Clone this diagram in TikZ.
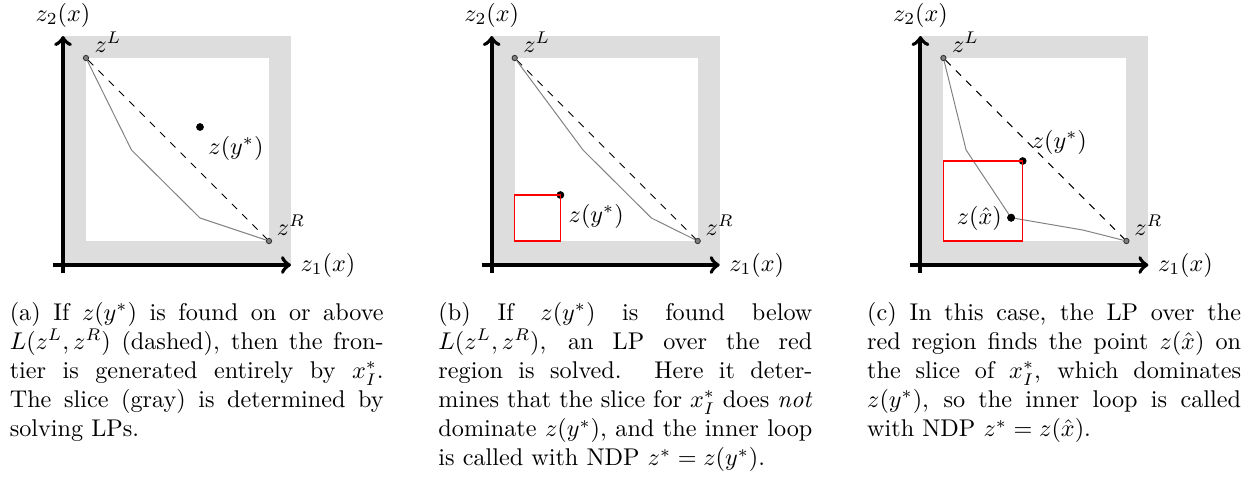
\documentclass[tikz,border=0pt]{standalone}
\begin{document}
\begin{tikzpicture}[x=0.4132pt, y=-0.4132pt,
  axis/.style={line width=1.6pt,->},
  band/.style={fill={rgb,255:red,221;green,221;blue,221}},
  slice/.style={draw=gray, line width=0.4pt},
  dline/.style={dashed, line width=0.4pt},
  endpt/.style={circle, draw=black!80, fill=gray, inner sep=0pt, minimum size=2.2pt, line width=0.35pt},
  dot/.style={circle, fill=black, inner sep=0pt, minimum size=3.2pt},
  redbox/.style={draw=red, line width=0.45pt},
  lbl/.style={inner sep=0pt},
  captext/.style={text width=154.5pt, align=justify, inner sep=0pt, anchor=north west}]
\useasboundingbox (0,0) rectangle (1259,478);
\foreach \p/\s in {a/0,b/428.7,c/857.4}{
 \begin{scope}[shift={(\s,0)}]
  \fill[band] (63,36) rectangle (291,265);
  \fill[white] (86,58) rectangle (269,241);
  \coordinate (\p-ybot) at (63,273);
  \coordinate (\p-ytop) at (63,36);
  \coordinate (\p-xlft) at (53,265);
  \coordinate (\p-xrgt) at (291,265);
  \draw[axis] (\p-ybot) -- (\p-ytop);
  \draw[axis] (\p-xlft) -- (\p-xrgt);
  \node[lbl] (\p-y2) at (63,15) {$z_2(x)$};
  \node[lbl] (\p-x1) at (328,265) {$z_1(x)$};
  \node[lbl] (\p-Ll) at (108,42) {$z^L$};
  \node[lbl] (\p-Rl) at (291,225) {$z^R$};
  \node[endpt] (\p-L) at (86,58) {};
  \node[endpt] (\p-R) at (269,241) {};
  \draw[dline] (\p-L) -- (\p-R);
 \end{scope}
}
% panel (a)
\begin{scope}
  \coordinate (a-s1) at (131.5,150);
  \coordinate (a-s2) at (200,218);
  \draw[slice] (a-L) -- (a-s1) -- (a-s2) -- (a-R);
  \node[dot] (a-y) at (200,127) {};
  \node[lbl] (a-yl) at (236,148) {$z(y^*)$};
  \node[captext] (a-cap) at (9.3,302) {(a) If $z(y^*)$ is found on or above\linebreak $L(z^L,z^R)$ (dashed), then the fron-\linebreak tier is generated entirely by $x_I^*$.\linebreak The slice (gray) is determined by\linebreak solving LPs.};
\end{scope}
% panel (b)
\begin{scope}[shift={(428.7,0)}]
  \coordinate (b-s1) at (154.3,150);
  \coordinate (b-s2) at (222.7,218);
  \draw[slice] (b-L) -- (b-s1) -- (b-s2) -- (b-R);
  \coordinate (b-r0) at (86,241);
  \node[dot] (b-y) at (131.7,195) {};
  \draw[redbox] (b-r0) rectangle (b-y.center);
  \node[lbl] (b-yl) at (167.5,216) {$z(y^*)$};
  \node[captext] (b-cap) at (9.3,302) {(b) If $z(y^*)$ is found below\linebreak $L(z^L,z^R)$, an LP over the red\linebreak region is solved. Here it deter-\linebreak mines that the slice for $x_I^*$ does \emph{not}\linebreak dominate $z(y^*)$, and the inner loop\linebreak is called with NDP $z^*=z(y^*)$.};
\end{scope}
% panel (c)
\begin{scope}[shift={(857.4,0)}]
  \coordinate (c-s1) at (108.7,150);
  \coordinate (c-s3) at (225.3,230);
  \node[dot] (c-x) at (153.7,217.7) {};
  \draw[slice] (c-L) -- (c-s1) -- (c-x.center) -- (c-s3) -- (c-R);
  \coordinate (c-r0) at (86,241);
  \node[dot] (c-y) at (165.3,161) {};
  \draw[redbox] (c-r0) rectangle (c-y.center);
  \node[dot] at (c-x) {};
  \node[lbl] (c-yl) at (202,142) {$z(y^*)$};
  \node[lbl] (c-xl) at (122,218) {$z(\hat{x})$};
  \node[captext] (c-cap) at (9.3,302) {(c) In this case, the LP over the\linebreak red region finds the point $z(\hat{x})$ on\linebreak the slice of $x_I^*$, which dominates\linebreak $z(y^*)$, so the inner loop is called\linebreak with NDP $z^*=z(\hat{x})$.};
\end{scope}
\end{tikzpicture}
\end{document}
